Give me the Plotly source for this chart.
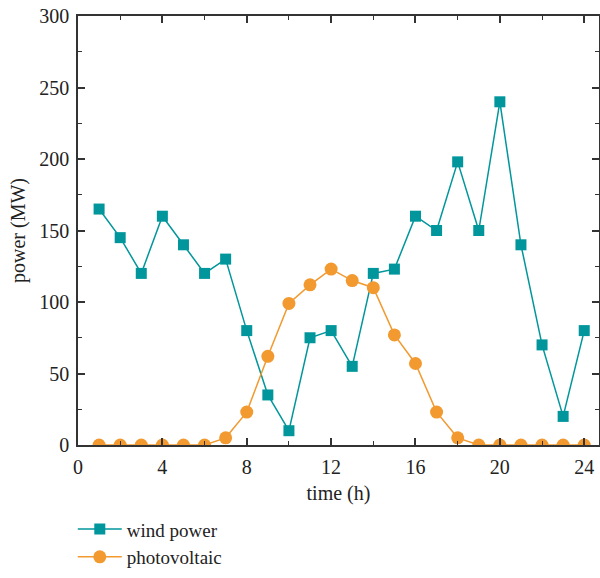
import plotly.graph_objects as go

hours = list(range(1, 25))
wind_power = [165, 145, 120, 160, 140, 120, 130, 80, 35, 10, 75, 80, 55, 120, 123, 160, 150, 198, 150, 240, 140, 70, 20, 80]
photovoltaic = [0, 0, 0, 0, 0, 0, 5, 23, 62, 99, 112, 123, 115, 110, 77, 57, 23, 5, 0, 0, 0, 0, 0, 0]
x_ticks = [0, 4, 8, 12, 16, 20, 24]
y_ticks = [0, 50, 100, 150, 200, 250, 300]

teal = "#00969B"
orange = "#F29A30"
font = "Liberation Serif"
txt = "#222222"

fig = go.Figure()
fig.add_trace(go.Scatter(x=hours, y=wind_power, mode="lines+markers", name="wind power",
                         line=dict(color=teal, width=1.5),
                         marker=dict(symbol="square", size=11, color=teal)))
fig.add_trace(go.Scatter(x=hours, y=photovoltaic, mode="lines+markers", name="photovoltaic",
                         line=dict(color=orange, width=1.5),
                         marker=dict(symbol="circle", size=13, color=orange)))

axis_common = dict(showgrid=False, zeroline=False, showline=True, linecolor="#333333",
                   linewidth=1.5, mirror="ticks", ticks="inside", ticklen=7, tickwidth=1.5,
                   tickcolor="#333333", tickfont=dict(family=font, size=20, color=txt),
                   automargin=False)

fig.update_xaxes(range=[0, 24.7], tickvals=x_ticks, ticktext=[str(v) for v in x_ticks],
                 ticklabelstandoff=3,
                 minor=dict(ticks="inside", ticklen=4, dtick=2, tick0=0, tickwidth=1, tickcolor="#333333"),
                 title=dict(text="time (h)", font=dict(family=font, size=20, color=txt), standoff=9),
                 **axis_common)
fig.update_yaxes(range=[0, 300], tickvals=y_ticks, ticktext=[str(v) for v in y_ticks],
                 ticklabelstandoff=3,
                 minor=dict(ticks="inside", ticklen=4, dtick=25, tick0=0, tickwidth=1, tickcolor="#333333"),
                 title=dict(text="power (MW)", font=dict(family=font, size=20, color=txt), standoff=8),
                 **axis_common)

fig.update_layout(
    width=600, height=578,
    margin=dict(l=78, r=1, t=16, b=133),
    plot_bgcolor="white", paper_bgcolor="white",
    font=dict(family=font, size=20, color=txt),
    showlegend=True,
    legend=dict(x=-0.01, y=-0.306, xanchor="left", yanchor="bottom",
                font=dict(family=font, size=19, color=txt),
                bgcolor="rgba(0,0,0,0)", tracegroupgap=0, itemwidth=44),
)

fig.write_html("out.html", config={"displayModeBar": False},
               post_script="document.body.style.margin='0';document.body.style.overflow='hidden';")
